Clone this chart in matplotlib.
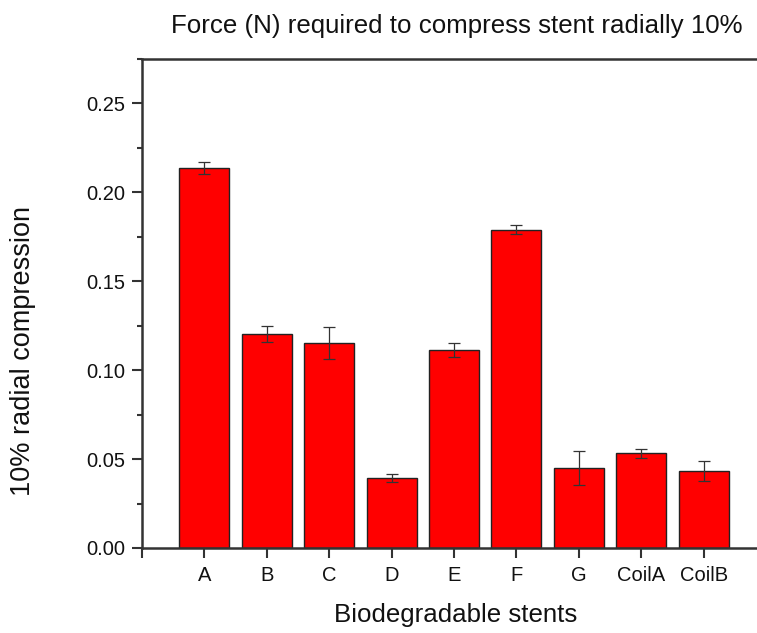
import matplotlib
matplotlib.use("Agg")
import matplotlib.pyplot as plt
from matplotlib.ticker import MultipleLocator, FormatStrFormatter

plt.rcParams['font.family'] = ['Liberation Sans', 'DejaVu Sans']

categories = ["A", "B", "C", "D", "E", "F", "G", "CoilA", "CoilB"]
values = [0.2137, 0.1202, 0.1152, 0.0393, 0.1112, 0.1790, 0.0450, 0.0532, 0.0432]
errors = [0.0033, 0.0045, 0.0090, 0.0022, 0.0040, 0.0025, 0.0095, 0.0025, 0.0055]

fig = plt.figure(figsize=(7.57, 6.33), dpi=100)
ax = fig.add_axes([0.1876, 0.1343, 0.8244, 0.7725])

x = list(range(len(categories)))
ax.bar(x, values, width=0.8, color="#ff0000", edgecolor="#222222", linewidth=1.0,
       yerr=errors, error_kw=dict(ecolor="#333333", elinewidth=0.9, capsize=4, capthick=0.9))

ax.set_xlim(-1, 9)
ax.set_ylim(0, 0.275)
ax.set_xticks([-1] + x)
ax.set_xticklabels([""] + categories)
ax.yaxis.set_major_locator(MultipleLocator(0.05))
ax.yaxis.set_minor_locator(MultipleLocator(0.025))
ax.yaxis.set_major_formatter(FormatStrFormatter('%.2f'))
ax.tick_params(axis='both', which='major', direction='out', length=7, width=1.5,
               labelsize=14.5, color="#333333", labelcolor="#111111")
ax.tick_params(axis='x', which='major', pad=6)
ax.tick_params(axis='y', which='major', pad=5)
ax.tick_params(axis='y', which='minor', direction='out', length=3.6, width=1.5, color="#333333")
for s in ax.spines.values():
    s.set_linewidth(1.8)
    s.set_color("#333333")

ax.set_xlabel("Biodegradable stents", fontsize=18.6, color="#111111")
ax.xaxis.set_label_coords(0.502, -0.112)
ax.set_ylabel("10% radial compression", fontsize=19.5, color="#111111")
ax.yaxis.set_label_coords(-0.170, 0.403)
fig.text(0.604, 0.959, "Force (N) required to compress stent radially 10%",
         ha="center", va="center", fontsize=18.6, color="#111111")

fig.savefig("out.png", dpi=100)
